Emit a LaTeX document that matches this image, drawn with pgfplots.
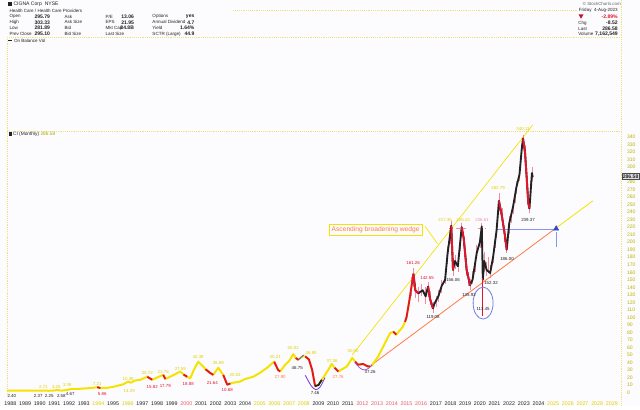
\documentclass[border=0pt]{standalone}
\usepackage{fontspec}
\setmainfont{Liberation Sans}
\usepackage{pgfplots}
\pgfplotsset{compat=1.18}
\definecolor{bg}{HTML}{FCFCFE}
\definecolor{yl}{HTML}{F5E200}
\definecolor{ylt}{HTML}{E2CF00}
\definecolor{rd}{HTML}{E3142C}
\definecolor{pk}{HTML}{F08CA0}
\definecolor{org}{HTML}{FF7A45}
\definecolor{bl}{HTML}{3344DD}
\definecolor{lbl}{HTML}{8896F0}
\definecolor{vio}{HTML}{A050D0}
\definecolor{dk}{HTML}{222222}
\definecolor{dotc}{HTML}{EEE27A}
\newcommand{\tn}{\fontsize{3.3}{3.6}\selectfont}
\newcommand{\hd}{\fontsize{3.4}{4}\selectfont}
\newcommand{\hb}{\fontsize{3.8}{4.4}\selectfont\bfseries}
\newcommand{\D}[1]{\textcolor{dk}{#1}}
\newcommand{\Y}[1]{\textcolor{ylt}{#1}}
\newcommand{\R}[1]{\textcolor{rd!70}{#1}}
\tikzset{lab/.style={font=\tn, inner sep=0pt}}
\pgfplotsset{redseg/.style={rd, line width=1.4pt, line join=round}}
\begin{document}
\begin{tikzpicture}
\begin{scope}[x=0.75pt,y=-0.75pt]
\useasboundingbox (0,0) rectangle (640,406);
\fill[bg] (0,0) rectangle (640,406);
\draw[dotc, densely dotted, line width=0.4pt] (7,37) -- (7,397);
\draw[dotc, densely dotted, line width=0.4pt] (621,0) -- (621,406);
\draw[dotc, densely dotted, line width=0.4pt] (7,131) -- (621,131);
\draw[dotc, densely dotted, line width=0.4pt] (7,37) -- (621,37);
\draw[dotc, densely dotted, line width=0.4pt] (233,10) -- (578,10);
\end{scope}
\begin{axis}[at={(5.25pt,-297.75pt)}, anchor=south west, scale only axis,
  width=460.5pt, height=199.5pt,
  xmin=1987.79, xmax=2029.62, ymin=-5.7, ymax=348,
  axis line style={draw=none}, major tick length=0pt, clip=false,
  ytick={0,10,...,280,300,310,...,340}, yticklabel pos=right,
  yticklabel style={font=\fontsize{3.8}{4}\selectfont, text=ylt!85!black, xshift=1pt},
  /pgf/number format/assume math mode=true,
  xtick={1988,1989,...,2029},
  xticklabels={\D{1988},\D{1989},\D{1990},\D{1991},\D{1992},\D{1993},\Y{1994},\D{1995},\Y{1996},\D{1997},\D{1998},\D{1999},\R{2000},\D{2001},\D{2002},\D{2003},\D{2004},\Y{2005},\Y{2006},\Y{2007},\Y{2008},\D{2009},\D{2010},\D{2011},\R{2012},\R{2013},\R{2014},\R{2015},\R{2016},\D{2017},\D{2018},\D{2019},\D{2020},\D{2021},\D{2022},\D{2023},\D{2024},\Y{2025},\Y{2026},\Y{2027},\Y{2028},\Y{2029}},
  xticklabel style={font=\fontsize{4}{4}\selectfont, yshift=0pt},
]
% trendlines
\addplot[yl, line width=0.5pt] coordinates {(2011.3,50) (2023.6,356)};
\addplot[org, line width=0.6pt] coordinates {(2012.5,35) (2025.2,219)};
\addplot[yl, line width=0.6pt] coordinates {(2025.2,219) (2027.7,255)};
\addplot[lbl, line width=0.6pt] coordinates {(2021.17,217) (2025.2,217)};
\addplot[lbl, line width=0.6pt] coordinates {(2025.2,213) (2025.2,193)};
\addplot[bl, mark=triangle*, mark size=2.2pt, only marks] coordinates {(2025.2,218)};
\addplot[pk, densely dashed, line width=0.5pt] coordinates {(2017.9,218) (2019.1,218)};
\addplot[pk, densely dashed, line width=0.5pt] coordinates {(2019.9,218) (2020.4,218)};
% main yellow line
\addplot[yl, line width=1.5pt, line join=round] table[x=x,y=y] {
x y
1987.8 2.4
1988.2 2.5
1988.6 2.6
1989.0 2.5
1989.5 2.6
1990.0 2.4
1990.25 2.7
1990.6 2.3
1991.0 2.8
1991.2 3.2
1991.5 2.6
1991.9 3.4
1992.1 4.7
1992.6 4.9
1993.0 5.3
1993.5 6.0
1993.92 7.2
1994.13 5.9
1994.6 6.3
1995.0 7.5
1995.29 9
1995.7 11
1996.03 14.6
1996.2 13
1996.5 16
1996.85 17
1997.33 21
1997.67 17
1998.0 20
1998.42 23.5
1998.56 18
1999.0 22
1999.58 28
1999.8 24
2000.05 21
2000.26 19
2000.5 30
2000.8 41
2001.14 34.6
2001.3 31
2001.62 26
2001.83 23.5
2002.17 33
2002.51 23.5
2002.78 10.5
2003.0 12
2003.19 13
2003.66 14.6
2004.0 18
2004.55 21
2005.0 26
2005.5 33
2005.98 41
2006.25 30
2006.39 28
2006.73 37
2007.0 42
2007.28 51
2007.45 46
2007.62 43.6
2007.89 48
2008.1 48
2008.35 44
2008.57 30
2008.77 8.5
2009.0 10
2009.23 17
2009.66 30
2009.9 38
2010.1 33
2010.35 28
2010.93 34.6
2011.3 46
2011.5 41
2011.7 37
2012.04 38
2012.38 34.6
2012.5 35
2012.64 36
2013.07 48
2013.54 66
2013.88 79
2014.1 81
2014.3 77
2014.77 88
2015.0 100
2015.2 123
2015.47 158
};
% candle wicks (high-low) for the later period
\addplot[draw=none, error bars/.cd, y dir=both, y explicit,
  error mark=none, error bar style={pk, line width=0.5pt}]
  table[x=x, y=y, y error plus=ep, y error minus=em] {
x y ep em
2015.3 140 14 12
2015.47 158 8 18
2015.6 136 10 10
2015.8 132 8 12
2016.0 136 8 8
2016.3 128 12 10
2016.47 141 6 14
2016.6 125 10 8
2016.8 112 8 6
2017.0 122 6 8
2017.17 128 8 8
2017.4 142 8 10
2017.63 150 12 6
2017.8 185 10 14
2017.97 210 10 12
2018.05 222 6 20
2018.17 163 16 8
2018.3 175 8 10
2018.5 168 12 8
2018.66 200 10 12
2018.76 220 6 10
2018.9 205 8 10
2019.1 163 14 8
2019.2 150 10 8
2019.33 143 8 6
2019.5 150 12 6
2019.66 168 10 8
2019.79 186 10 8
2020.0 200 10 8
2020.13 221 4 10
2020.3 175 12 14
2020.46 163 10 8
2020.6 170 10 10
2020.7 159 10 6
2020.9 180 10 8
2021.05 200 10 8
2021.14 216 8 10
2021.3 255 10 14
2021.5 235 10 10
2021.7 210 8 10
2021.83 190 10 4
2022.0 225 10 14
2022.15 235 8 10
2022.26 247 8 10
2022.4 262 10 10
2022.5 274 8 10
2022.7 290 10 8
2022.85 323 8 10
2022.94 338 4 10
2023.08 319 10 10
2023.2 283 10 10
2023.3 252 10 8
2023.38 245 10 6
2023.47 270 12 8
2023.55 292 8 10
};
% black section
\addplot[dk, line width=1.4pt, line join=round] table[x=x,y=y] {
x y
2015.47 158
2015.6 136
2015.8 132
2016.1 136
2016.3 128
2016.47 141
2016.6 125
2016.8 112
2016.9 118
2017.17 128
2017.4 142
2017.63 150
2017.8 185
2017.97 210
2018.05 222
2018.17 163
2018.3 175
2018.5 168
2018.76 220
2018.9 205
2019.1 163
2019.33 143
2019.5 150
2019.79 186
2020.0 200
2020.13 221
2020.2 150
2020.3 175
2020.46 163
2020.7 159
2020.9 180
2021.14 216
2021.3 255
2021.5 235
2021.7 210
2021.83 190
2022.0 225
2022.26 247
2022.5 274
2022.7 290
2022.85 323
2022.94 338
2023.08 319
2023.2 283
2023.3 252
2023.38 245
2023.55 292
2023.6 286.58
};
% red overlays
\addplot[redseg] coordinates {(1993.92,7.2) (1994.13,5.9)};
\addplot[redseg] coordinates {(1997.33,21) (1997.67,17)};
\addplot[redseg] coordinates {(1998.42,23.5) (1998.56,18)};
\addplot[redseg] coordinates {(1999.8,24) (2000.05,21)};
\addplot[redseg] coordinates {(2001.3,31) (2001.62,26) (2001.83,23.5)};
\addplot[redseg] coordinates {(2002.51,23.5) (2002.78,10.5) (2003.0,12)};
\addplot[redseg] coordinates {(2005.98,41) (2006.25,30) (2006.39,28)};
\addplot[redseg] coordinates {(2007.45,46) (2007.62,43.6)};
\addplot[redseg] coordinates {(2008.1,48) (2008.35,44) (2008.57,30) (2008.77,8.5)};
\addplot[dk, line width=1.4pt] coordinates {(2008.77,8.5) (2009.0,10) (2009.23,17)};
\addplot[redseg] coordinates {(2010.1,33) (2010.35,28)};
\addplot[redseg] coordinates {(2011.5,41) (2011.7,37) (2012.04,38) (2012.38,34.6) (2012.5,35)};
\addplot[redseg] coordinates {(2014.1,81) (2014.3,77)};
\addplot[redseg] coordinates {(2014.9,94) (2015.0,100) (2015.2,123) (2015.47,158)};
\addplot[redseg] coordinates {(2015.47,158) (2015.6,136) (2015.8,132)};
\addplot[redseg] coordinates {(2016.47,141) (2016.6,125) (2016.8,112)};
\addplot[redseg] coordinates {(2018.05,222) (2018.17,163)};
\addplot[redseg] coordinates {(2018.76,220) (2018.9,205) (2019.1,163) (2019.33,143)};
\addplot[rd, line width=0.8pt] coordinates {(2020.2,152) (2020.2,102)};
\addplot[redseg] coordinates {(2021.3,255) (2021.5,235) (2021.7,210) (2021.83,190)};
\addplot[redseg] coordinates {(2022.94,338) (2023.08,319) (2023.2,283) (2023.3,252) (2023.38,245)};
% arcs
\addplot[vio!70!blue, line width=0.6pt, smooth] coordinates {(2008.1,23) (2008.5,9) (2008.8,4) (2009.1,7) (2009.45,20)};
\addplot[bl, line width=0.5pt] coordinates {(2007.6,43) (2008.0,50)};
\addplot[vio, line width=0.6pt, smooth] coordinates {(2011.5,39.5) (2011.8,33) (2012.1,30) (2012.4,32) (2012.66,37)};
\draw[bl!70, line width=0.6pt] (axis cs:2020.22,119) ellipse [x radius=7.5pt, y radius=12pt];
% value labels
\node[lab, text=dk] at (axis cs:1988.1,-4) {2.40};
\node[lab, text=ylt] at (axis cs:1990.25,7.6) {2.71};
\node[lab, text=ylt] at (axis cs:1991.13,7.6) {3.25};
\node[lab, text=ylt] at (axis cs:1991.88,10.2) {3.38};
\node[lab, text=dk] at (axis cs:1989.9,-4) {2.37};
\node[lab, text=dk] at (axis cs:1990.65,-4) {2.25};
\node[lab, text=dk] at (axis cs:1991.47,-4) {2.58};
\node[lab, text=dk] at (axis cs:1992.08,-2) {4.67};
\node[lab, text=ylt] at (axis cs:1993.92,11.6) {7.21};
\node[lab, text=rd] at (axis cs:1994.26,-1.7) {5.86};
\node[lab, text=ylt] at (axis cs:1996.03,18.2) {10.38};
\node[lab, text=ylt] at (axis cs:1996.1,2.3) {14.29};
\node[lab, text=ylt] at (axis cs:1997.33,26.2) {20.72};
\node[lab, text=rd] at (axis cs:1997.67,7.6) {15.82};
\node[lab, text=ylt] at (axis cs:1998.42,27.5) {21.76};
\node[lab, text=rd] at (axis cs:1998.56,8.9) {17.79};
\node[lab, text=ylt] at (axis cs:1999.58,31.5) {27.59};
\node[lab, text=rd] at (axis cs:2000.12,11.6) {18.88};
\node[lab, text=ylt] at (axis cs:2000.8,47.5) {40.38};
\node[lab, text=rd] at (axis cs:2001.76,12.9) {21.64};
\node[lab, text=ylt] at (axis cs:2002.17,39.5) {35.89};
\node[lab, text=rd] at (axis cs:2002.78,3.6) {10.68};
\node[lab, text=ylt] at (axis cs:2003.32,23.5) {20.03};
\node[lab, text=ylt] at (axis cs:2006.05,47.5) {40.21};
\node[lab, text=org] at (axis cs:2006.39,20.9) {27.90};
\node[lab, text=ylt] at (axis cs:2007.28,59.4) {50.02};
\node[lab, text=dk] at (axis cs:2007.55,32.8) {46.75};
\node[lab, text=ylt] at (axis cs:2008.5,52) {46.90};
\node[lab, text=dk] at (axis cs:2008.77,-1) {7.46};
\node[lab, text=ylt] at (axis cs:2009.93,42.2) {37.36};
\node[lab, text=org] at (axis cs:2010.34,20.9) {27.76};
\node[lab, text=ylt] at (axis cs:2011.36,55.5) {50.50};
\node[lab, text=dk] at (axis cs:2012.52,28) {37.26};
\node[lab, text=rd] at (axis cs:2015.45,172) {161.26};
\node[lab, text=rd] at (axis cs:2016.4,152) {142.55};
\node[lab, text=dk] at (axis cs:2016.81,100) {119.08};
\node[lab, text=dk] at (axis cs:2018.17,150) {156.06};
\node[lab, text=ylt] at (axis cs:2017.63,230) {217.36};
\node[lab, text=ylt] at (axis cs:2018.86,230) {226.10};
\node[lab, text=pk] at (axis cs:2020.15,230) {226.61};
\node[lab, text=dk] at (axis cs:2019.26,130) {135.92};
\node[lab, text=dk] at (axis cs:2020.22,111) {113.45};
\node[lab, text=dk] at (axis cs:2020.76,146) {152.32};
\node[lab, text=ylt] at (axis cs:2021.24,272) {262.79};
\node[lab, text=dk] at (axis cs:2021.85,178) {186.00};
\node[lab, text=ylt] at (axis cs:2022.94,350) {340.11};
\node[lab, text=dk] at (axis cs:2023.28,230) {239.37};
\end{axis}
\begin{scope}[x=0.75pt,y=-0.75pt, every node/.style={font=\hd, text=dk, inner sep=0pt}]
% header left
\fill[dk] (8,2) rectangle (11.5,6.2);
\node[anchor=west, font=\fontsize{3.8}{4.4}\selectfont] at (13,4.2) {CIGNA Corp\ \ NYSE};
\node[anchor=west] at (9,10.5) {Health Care / Health Care Providers};
\foreach \yy/\a/\b/\c/\d/\e/\f/\g in {16.5/Open/295.79/Ask/P\slash E/13.06/Options/yes, 22.3/High/303.33/Ask Size/EPS/21.95/Annual Dividend/4.7, 28.1/Low/281.89/Bid/Mkt Cap/84.8B/Yield/1.64\%, 33.9/Prev Close/295.10/Bid Size/Last Size/{}/SCTR (Large)/44.9}{
  \node[anchor=west] at (9,\yy) {\a};
  \node[anchor=east, font=\hb] at (50,\yy) {\b};
  \node[anchor=west] at (64,\yy) {\c};
  \node[anchor=west] at (105,\yy) {\d};
  \node[anchor=east, font=\hb] at (134,\yy) {\e};
  \node[anchor=west] at (152,\yy) {\f};
  \node[anchor=east, font=\hb] at (194.5,\yy) {\g};
}
\draw[dk, line width=0.5pt] (8,40.5) -- (12,40.5);
\node[anchor=west] at (13.5,40.5) {On Balance Vol};
% header right
\node[anchor=east, font=\fontsize{3.3}{4}\selectfont, text=dk!70] at (621,4) {\textcopyright\ StockCharts.com};
\node[anchor=east] at (618,10.5) {Friday\ \ 4-Aug-2023};
\fill[rd!85!black] (578.5,14.3) -- (583.5,14.3) -- (581,18.8) -- cycle;
\node[anchor=east, font=\hb, text=rd] at (618,16.8) {-2.89\%};
\node[anchor=west] at (578,23) {Chg};
\node[anchor=east, font=\hb] at (618,23) {-8.52};
\node[anchor=west] at (578,28.6) {Last};
\node[anchor=east, font=\hb] at (618,28.6) {286.58};
\node[anchor=west] at (578,34.2) {Volume};
\node[anchor=east, font=\hb] at (618,34.2) {7,162,549};
% price panel label
\fill[dk] (8.5,132.5) rectangle (11.5,136);
\node[anchor=west, font=\fontsize{3.6}{4}\selectfont] at (12.5,134.5) {CI (Monthly) \textcolor{ylt!80!black}{286.58}};
% callout
\draw[yl, line width=0.5pt] (425,226.5) -- (437.5,244);
\node[draw=yl, line width=0.6pt, fill=bg, text=org, font=\fontsize{5}{5}\selectfont, inner xsep=2pt, inner ysep=1.6pt] at (375.5,230) {Ascending broadening wedge};
% price tag
\node[anchor=west, fill=black!12, draw=black!70, line width=0.4pt, font=\fontsize{3.8}{4}\selectfont\bfseries, inner sep=0.8pt] at (621.5,176.5) {286.58};
\end{scope}
\end{tikzpicture}
\end{document}
